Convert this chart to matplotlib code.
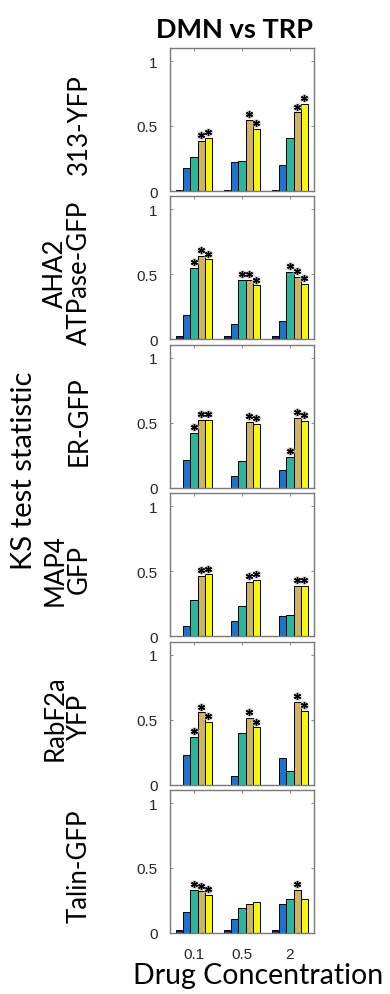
import matplotlib
matplotlib.use("Agg")
import matplotlib.pyplot as plt
import numpy as np

# ---------------- data ----------------
concentrations = ["0.1", "0.5", "2"]
markers = ["313-YFP", "AHA2\nATPase-GFP", "ER-GFP", "MAP4\nGFP", "RabF2a\nYFP", "Talin-GFP"]

# values[panel][group][bar]  (5 bars per concentration group)
v_313 = [[0.01, 0.18, 0.26, 0.385, 0.41],
         [0.01, 0.22, 0.23, 0.545, 0.48],
         [0.01, 0.20, 0.405, 0.605, 0.667]]
v_aha2 = [[0.03, 0.19, 0.55, 0.64, 0.615],
          [0.03, 0.115, 0.46, 0.46, 0.415],
          [0.03, 0.14, 0.52, 0.48, 0.43]]
v_er = [[0.0, 0.215, 0.425, 0.525, 0.525],
        [0.0, 0.09, 0.21, 0.51, 0.49],
        [0.0, 0.14, 0.24, 0.54, 0.515]]
v_map4 = [[0.0, 0.08, 0.28, 0.465, 0.475],
          [0.0, 0.115, 0.235, 0.415, 0.435],
          [0.0, 0.155, 0.16, 0.385, 0.39]]
v_rabf2a = [[0.0, 0.225, 0.365, 0.555, 0.48],
            [0.0, 0.07, 0.395, 0.51, 0.44],
            [0.0, 0.205, 0.105, 0.635, 0.57]]
v_talin = [[0.02, 0.165, 0.33, 0.32, 0.295],
           [0.02, 0.11, 0.195, 0.22, 0.24],
           [0.02, 0.225, 0.265, 0.33, 0.26]]

# significance flags (1 = asterisk)
s_313 = [[0, 0, 0, 1, 1], [0, 0, 0, 1, 1], [0, 0, 0, 1, 1]]
s_aha2 = [[0, 0, 1, 1, 1], [0, 0, 1, 1, 1], [0, 0, 1, 1, 1]]
s_er = [[0, 0, 1, 1, 1], [0, 0, 0, 1, 1], [0, 0, 1, 1, 1]]
s_map4 = [[0, 0, 0, 1, 1], [0, 0, 0, 1, 1], [0, 0, 0, 1, 1]]
s_rabf2a = [[0, 0, 1, 1, 1], [0, 0, 0, 1, 1], [0, 0, 0, 1, 1]]
s_talin = [[0, 0, 1, 1, 1], [0, 0, 0, 0, 0], [0, 0, 0, 1, 0]]

values = [v_313, v_aha2, v_er, v_map4, v_rabf2a, v_talin]
stars = [s_313, s_aha2, s_er, s_map4, s_rabf2a, s_talin]

bar_colors = ["#231f66", "#1a74cc", "#2db59b", "#cfb35f", "#f7f613"]
y_ticks = [0, 0.5, 1]
y_ticklabels = ["0", "0.5", "1"]

# ---------------- layout ----------------
W, H = 390, 995
fig = plt.figure(figsize=(W / 100, H / 100), dpi=100)
label_font = ["Lato", "DejaVu Sans"]
tick_font = ["Liberation Sans", "DejaVu Sans"]

ax_left, ax_w = 170, 144
top0, step, ax_h = 49, 148.4, 143
bw = 0.15
edge_gray = "#7a7a7a"

for i, (vals, st) in enumerate(zip(values, stars)):
    top = top0 + i * step
    ax = fig.add_axes([ax_left / W, 1 - (top + ax_h) / H, ax_w / W, ax_h / H])
    vals = np.array(vals)
    ng, nb = vals.shape
    x = np.arange(1, ng + 1)
    for b in range(nb):
        xs = x + (b - (nb - 1) / 2) * bw
        ax.bar(xs, vals[:, b], width=bw, color=bar_colors[b],
               edgecolor="black", linewidth=0.7, zorder=2)
        for g in range(ng):
            if st[g][b]:
                ys = vals[g, b] + 0.045
                ax.plot(xs[g], ys, marker="o", ms=6.5, color="#d0d0d0",
                        mec="none", alpha=0.8, zorder=3)
                ax.plot(xs[g], ys, marker=(6, 2, 0), ms=5, color="black",
                        mew=1.0, zorder=4)
    ax.set_xlim(0.5, ng + 0.5)
    ax.set_ylim(0, 1.1)
    ax.set_xticks(x)
    ax.set_yticks(y_ticks)
    ax.set_yticklabels(y_ticklabels, family=tick_font, fontsize=11, color="#262626")
    if i == len(values) - 1:
        ax.set_xticklabels(concentrations, family=tick_font, fontsize=11, color="#262626")
    else:
        ax.set_xticklabels([])
    ax.tick_params(direction="in", length=2.5, width=0.6, color=edge_gray,
                   top=True, right=True)
    ax.tick_params(axis="x", pad=10)
    ax.tick_params(axis="y", pad=9)
    for sp in ax.spines.values():
        sp.set_color(edge_gray)
        sp.set_linewidth(1.0)
    # row label
    fig.text(92 / W, 1 - (top + ax_h / 2 + 4) / H, markers[i], rotation=90,
             ha="right", va="center", multialignment="center",
             family=label_font, fontsize=18.5, color="black", linespacing=0.95)

fig.text(235 / W, 1 - 30 / H, "DMN vs TRP", ha="center", va="center",
         family=label_font, fontsize=19.5, fontweight="bold")
fig.text(258 / W, 1 - 976 / H, "Drug Concentration", ha="center", va="center",
         family=label_font, fontsize=20.5)
fig.text(24 / W, 1 - 471 / H, "KS test statistic", rotation=90, ha="center",
         va="center", family=label_font, fontsize=21)

fig.savefig("out.png", dpi=100)
